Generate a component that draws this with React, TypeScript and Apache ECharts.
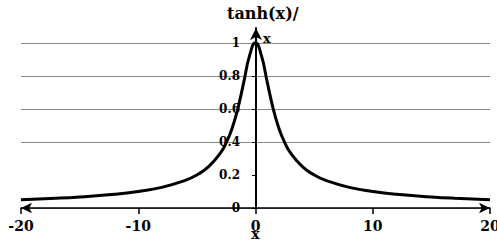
import React, { useEffect, useRef } from "react";
import * as echarts from "echarts";

const xValues = [-20, -17, -15, -12, -10, -8, -6, -5, -4, -3, -2.5, -2, -1.5, -1, -0.5, 0, 0.5, 1, 1.5, 2, 2.5, 3, 4, 5, 6, 8, 10, 12, 15, 17, 20];
const yValues = [0.05, 0.059, 0.067, 0.083, 0.1, 0.125, 0.167, 0.2, 0.25, 0.332, 0.395, 0.482, 0.604, 0.762, 0.924, 1, 0.924, 0.762, 0.604, 0.482, 0.395, 0.332, 0.25, 0.2, 0.167, 0.125, 0.1, 0.083, 0.067, 0.059, 0.05];
const titleText = "tanh(x)/";
const yNameText = "x";
const xNameText = "x";

const FONT = "DejaVu Serif";

export default function App() {
  const ref = useRef<HTMLDivElement>(null);
  useEffect(() => {
    if (!ref.current) return;
    const chart = echarts.init(ref.current, null, { renderer: "svg" });
    const data = xValues.map((x, i) => [x, yValues[i]]);
    chart.setOption({
      animation: false,
      backgroundColor: "#ffffff",
      title: [
        {
          text: titleText,
          left: 222,
          top: 0,
          textStyle: { fontFamily: FONT, fontWeight: "bold", fontSize: 16, color: "#000" },
        },
        {
          text: yNameText,
          left: 258,
          top: 27,
          textStyle: { fontFamily: FONT, fontWeight: "bold", fontSize: 13, color: "#000" },
        },
      ],
      grid: { left: 21, right: 7, top: 28, bottom: 35, outerBoundsMode: "none", containLabel: false },
      xAxis: {
        type: "value",
        min: -20,
        max: 20,
        interval: 10,
        name: xNameText,
        nameLocation: "middle",
        nameGap: 19,
        nameMoveOverlap: false,
        nameTextStyle: { fontFamily: FONT, fontWeight: "bold", fontSize: 14, color: "#000" },
        axisLine: {
          show: true,
          onZero: true,
          symbol: ["arrow", "arrow"],
          symbolSize: [8, 11],
          lineStyle: { color: "#000", width: 1.5 },
        },
        axisTick: { show: true, length: 6, lineStyle: { color: "#000", width: 1.5 } },
        axisLabel: {
          margin: 11,
          fontFamily: FONT,
          fontWeight: "bold",
          fontSize: 14,
          color: "#000",
          showMinLabel: true,
          showMaxLabel: true,
        },
        splitLine: { show: false },
      },
      yAxis: {
        type: "value",
        min: 0,
        max: 1.09,
        interval: 0.2,
        offset: -235,
        axisLine: {
          show: true,
          onZero: false,
          symbol: ["none", "arrow"],
          symbolSize: [9, 12],
          lineStyle: { color: "#000", width: 2 },
        },
        axisTick: { show: true, length: 4, lineStyle: { color: "#000", width: 1 } },
        axisLabel: {
          margin: 16,
          fontFamily: FONT,
          fontWeight: "bold",
          fontSize: 12,
          color: "#000",
          showMaxLabel: false,
          formatter: (v: number) => (v > 1.001 ? "" : String(Math.round(v * 10) / 10)),
        },
        splitLine: {
          show: true,
          lineStyle: {
            color: ["#888888", "rgba(0,0,0,0)", "#888888", "#888888", "#888888", "#888888", "rgba(0,0,0,0)"],
            width: 1,
          },
        },
      },
      series: [
        {
          type: "line",
          data,
          smooth: true,
          showSymbol: false,
          lineStyle: { color: "#000", width: 3 },
          z: 3,
        },
      ],
    });
    return () => chart.dispose();
  }, []);
  return (
    <div
      ref={ref}
      style={{ position: "fixed", left: 0, top: 0, width: 497, height: 243, background: "#fff" }}
    />
  );
}
